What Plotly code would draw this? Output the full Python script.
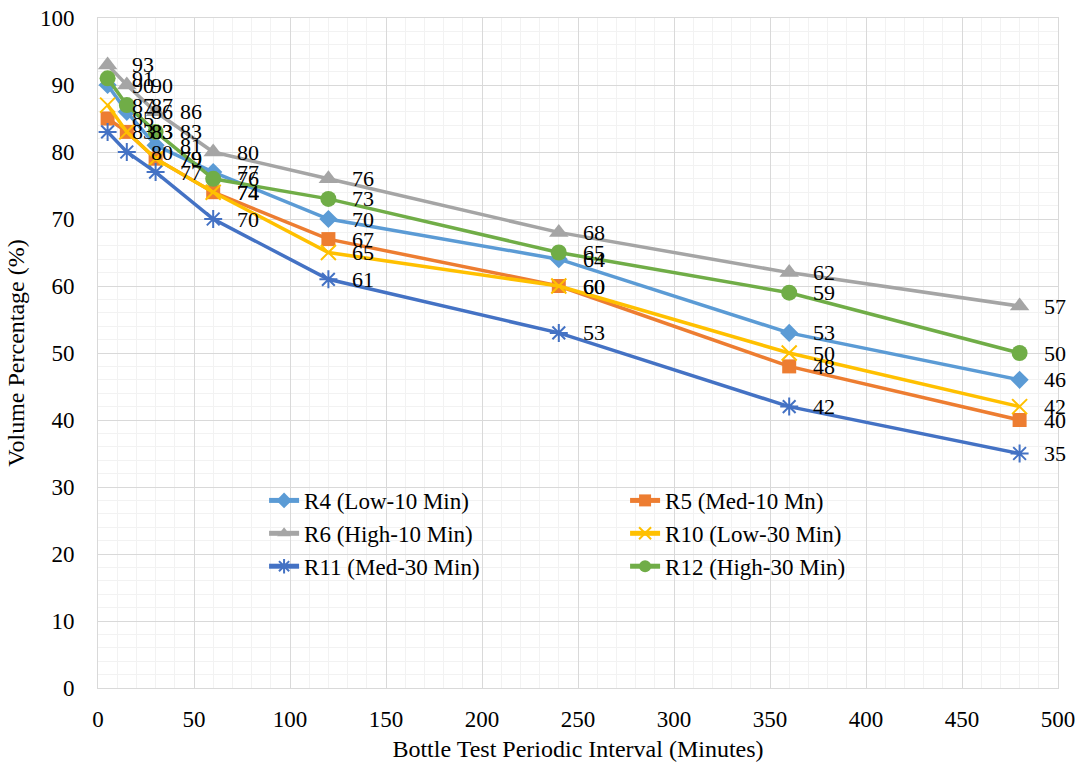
import plotly.graph_objects as go

minutes = [5, 15, 30, 60, 120, 240, 360, 480]

series_names = ["R4 (Low-10 Min)", "R5 (Med-10 Mn)", "R6 (High-10 Min)",
                "R10 (Low-30 Min)", "R11 (Med-30 Min)", "R12 (High-30 Min)"]

r4 = [90, 86, 81, 77, 70, 64, 53, 46]
r5 = [85, 83, 79, 74, 67, 60, 48, 40]
r6 = [93, 90, 86, 80, 76, 68, 62, 57]
r10 = [87, 83, 79, 74, 65, 60, 50, 42]
r11 = [83, 80, 77, 70, 61, 53, 42, 35]
r12 = [91, 87, 83, 76, 73, 65, 59, 50]

values = [r4, r5, r6, r10, r11, r12]
colors = ["#5B9BD5", "#ED7D31", "#A5A5A5", "#FFC000", "#4472C4", "#70AD47"]
symbols = ["diamond", "square", "triangle-up", "x-thin-open", "asterisk-open", "circle"]
sizes = [14, 14, 17, 15, 15, 16]

FONT = "Liberation Serif"
FS_LABEL = 22
FS_TICK = 23
FS_TITLE = 24
FS_LEG = 23

fig = go.Figure()
annotations = []
for name, vals, col, sym, sz in zip(series_names, values, colors, symbols, sizes):
    open_sym = sym.endswith("open")
    fig.add_trace(go.Scatter(
        x=minutes, y=vals, name=name, mode="lines+markers",
        line=dict(color=col, width=3.5),
        marker=dict(symbol=sym, size=sz, color=col,
                    line=dict(color=col, width=2 if open_sym else 0)),
    ))
    for xv, yv in zip(minutes, vals):
        annotations.append(dict(
            x=xv, y=yv, xref="x", yref="y", text=str(yv), showarrow=False,
            xanchor="left", yanchor="middle", xshift=22,
            font=dict(family=FONT, size=FS_LABEL, color="#000000"),
        ))

fig.update_layout(
    width=1089, height=767,
    margin=dict(l=98, r=31, t=18, b=79),
    paper_bgcolor="white", plot_bgcolor="white",
    font=dict(family=FONT, size=FS_TICK, color="#000000"),
    annotations=annotations,
    showlegend=True,
    legend=dict(
        orientation="h", x=0.173, y=0.312, xanchor="left", yanchor="top",
        entrywidth=316, entrywidthmode="pixels",
        bgcolor="rgba(0,0,0,0)", font=dict(family=FONT, size=FS_LEG, color="#000000"),
        tracegroupgap=0, itemsizing="constant",
    ),
    xaxis=dict(
        range=[0, 500], dtick=50, tick0=0,
        showgrid=True, gridcolor="#D9D9D9", gridwidth=1,
        minor=dict(dtick=10, showgrid=True, gridcolor="#F2F2F2", gridwidth=1),
        zeroline=False, showline=True, linecolor="#D9D9D9", linewidth=1, mirror=True,
        ticks="", ticklabelstandoff=10,
        tickfont=dict(family=FONT, size=FS_TICK, color="#000000"),
        title=dict(text="Bottle Test Periodic Interval (Minutes)", standoff=9,
                   font=dict(family=FONT, size=FS_TITLE, color="#000000")),
        automargin=False, fixedrange=True,
    ),
    yaxis=dict(
        range=[0, 100], dtick=10, tick0=0,
        showgrid=True, gridcolor="#D9D9D9", gridwidth=1,
        minor=dict(dtick=2, showgrid=True, gridcolor="#F2F2F2", gridwidth=1),
        zeroline=False, showline=True, linecolor="#D9D9D9", linewidth=1, mirror=True,
        ticks="", ticklabelstandoff=18,
        tickfont=dict(family=FONT, size=FS_TICK, color="#000000"),
        title=dict(text="Volume Percentage (%)", standoff=8,
                   font=dict(family=FONT, size=FS_TITLE, color="#000000")),
        automargin=False, fixedrange=True,
    ),
)

fig.write_html("out.html")
